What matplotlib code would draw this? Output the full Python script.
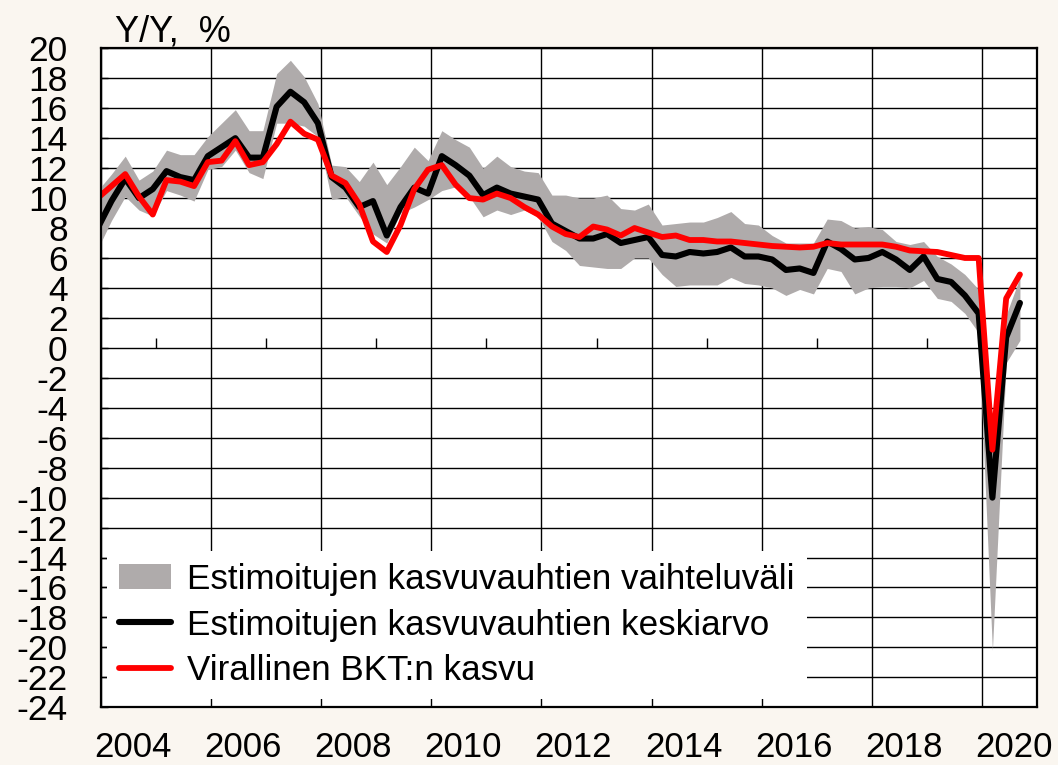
import matplotlib
matplotlib.use("Agg")
import matplotlib.pyplot as plt
from matplotlib.lines import Line2D
from matplotlib.patches import Patch
import numpy as np
import pandas as pd

# Quarterly data, 2003Q4 ... 2020Q3
quarters = pd.period_range("2003Q4", "2020Q3", freq="Q")

official = [10.0, 10.8, 11.6, 10.1, 8.9, 11.2, 11.1, 10.8, 12.4, 12.5, 13.8, 12.2, 12.4,
            13.6, 15.1, 14.3, 13.9, 11.5, 11.0, 9.6, 7.1, 6.4, 8.2, 10.6, 11.9,
            12.2, 10.9, 10.0, 9.9, 10.3, 10.0, 9.4, 8.9, 8.1, 7.6, 7.4, 8.1,
            7.9, 7.5, 8.0, 7.7, 7.4, 7.5, 7.2, 7.2, 7.1, 7.1, 7.0, 6.9,
            6.8, 6.75, 6.7, 6.75, 7.0, 6.9, 6.9, 6.9, 6.9, 6.75, 6.5, 6.45,
            6.4, 6.2, 6.0, 6.0, -6.8, 3.3, 4.9]

est_mean = [8.0, 9.8, 11.3, 10.0, 10.6, 11.8, 11.4, 11.2, 12.8, 13.4, 14.0, 12.7, 12.7,
            16.1, 17.1, 16.4, 15.0, 11.4, 10.7, 9.4, 9.8, 7.5, 9.4, 10.7, 10.3,
            12.8, 12.2, 11.5, 10.2, 10.7, 10.3, 10.1, 9.9, 8.3, 7.8, 7.3, 7.3,
            7.6, 7.0, 7.2, 7.4, 6.2, 6.1, 6.4, 6.3, 6.4, 6.7, 6.1, 6.1,
            5.9, 5.2, 5.3, 5.0, 7.1, 6.6, 5.9, 6.0, 6.4, 5.9, 5.2, 6.1,
            4.6, 4.4, 3.5, 2.3, -10.0, 0.7, 3.0]

est_max = [10.5, 11.6, 12.8, 11.2, 11.8, 13.2, 12.9, 12.9, 14.1, 15.0, 15.9, 14.5, 14.5,
           18.3, 19.2, 18.1, 16.3, 12.2, 12.1, 11.1, 12.4, 10.9, 12.1, 13.4, 12.5,
           14.5, 13.9, 13.4, 12.0, 12.8, 12.1, 11.8, 11.7, 10.2, 10.2, 10.0, 10.0,
           10.2, 9.3, 9.2, 9.6, 8.2, 8.3, 8.4, 8.4, 8.7, 9.1, 8.3, 8.2,
           7.5, 7.0, 7.0, 7.0, 8.6, 8.5, 8.0, 8.1, 7.9, 7.1, 6.9, 7.1,
           6.1, 5.6, 4.9, 3.9, -6.5, 2.2, 4.7]

est_min = [6.6, 8.5, 10.1, 9.2, 8.8, 10.5, 10.2, 9.8, 11.9, 12.1, 13.2, 11.7, 11.3,
           15.0, 15.0, 14.8, 14.1, 9.9, 10.1, 8.8, 7.6, 7.0, 9.0, 9.4, 9.9,
           10.5, 10.75, 10.1, 8.75, 9.2, 8.9, 9.2, 8.75, 7.1, 6.5, 5.5, 5.4,
           5.3, 5.3, 6.0, 6.0, 4.9, 4.1, 4.2, 4.2, 4.2, 4.7, 4.3, 4.2,
           4.0, 3.5, 3.9, 3.6, 5.3, 5.1, 3.6, 4.0, 4.1, 4.1, 4.0, 4.5,
           3.3, 3.1, 2.3, 1.0, -20.2, -1.0, 0.5]

labels = ["Estimoitujen kasvuvauhtien vaihteluväli",
          "Estimoitujen kasvuvauhtien keskiarvo",
          "Virallinen BKT:n kasvu"]

year_labels = list(range(2004, 2021, 2))
y_ticks = list(range(-24, 21, 2))

BAND = "#afabab"
RED = "#ff0000"
BG = "#faf6f0"

plt.rcParams["font.family"] = ["Liberation Sans", "DejaVu Sans"]
plt.rcParams["axes.unicode_minus"] = False

x = np.array([q.year + (q.quarter - 1) / 4 + 0.19 for q in quarters])

fig = plt.figure(figsize=(10.58, 7.65), dpi=100, facecolor=BG)
ax = fig.add_axes([101 / 1058, 1 - 707.3 / 765, 936 / 1058, 659 / 765])
ax.set_facecolor("white")

ax.fill_between(x, est_min, est_max, color=BAND, lw=0, zorder=2)
ax.plot(x, est_mean, color="black", lw=4.4, solid_joinstyle="round",
        solid_capstyle="round", zorder=3)
ax.plot(x, official, color=RED, lw=4.2, solid_joinstyle="round",
        solid_capstyle="round", zorder=4)

# small marks on the zero line for odd years
ax.vlines(range(2005, 2021, 2), 0, 0.65, color="black", lw=1.0, zorder=1.5)

ax.set_xlim(2004, 2021)
ax.set_ylim(-24, 20)

ax.set_xticks(year_labels)
ax.set_xticklabels([])
ax.set_xticks([y + 0.58 for y in year_labels], minor=True)
ax.set_xticklabels([str(y) for y in year_labels], minor=True, fontsize=25)
ax.tick_params(axis="x", which="both", length=0, pad=17)

ax.set_yticks(y_ticks)
ax.set_yticklabels([str(v) for v in y_ticks], fontsize=25.5)
ax.tick_params(axis="y", direction="in", length=5, width=1, pad=24)

ax.grid(True, which="major", color="black", lw=1.0)
ax.set_axisbelow(True)
for sp in ax.spines.values():
    sp.set_linewidth(1.6)
    sp.set_zorder(6)

handles = [Patch(facecolor=BAND, edgecolor="none"),
           Line2D([], [], color="black", lw=4.4, solid_capstyle="round"),
           Line2D([], [], color=RED, lw=4.2, solid_capstyle="round")]
leg = ax.legend(handles, labels, loc="lower left", bbox_to_anchor=(0.006, 0.012),
                borderaxespad=0, fontsize=25.2, frameon=True, fancybox=False,
                facecolor="white", edgecolor="none", framealpha=1,
                handlelength=1.5, handleheight=0.72, handletextpad=0.45,
                labelspacing=0.36, borderpad=0.35)
leg.set_zorder(5)

fig.text(115 / 1058, 1 - 42 / 765, "Y/Y,  %", fontsize=26, ha="left", va="baseline")

fig.savefig("out.png", dpi=100, facecolor=BG)
